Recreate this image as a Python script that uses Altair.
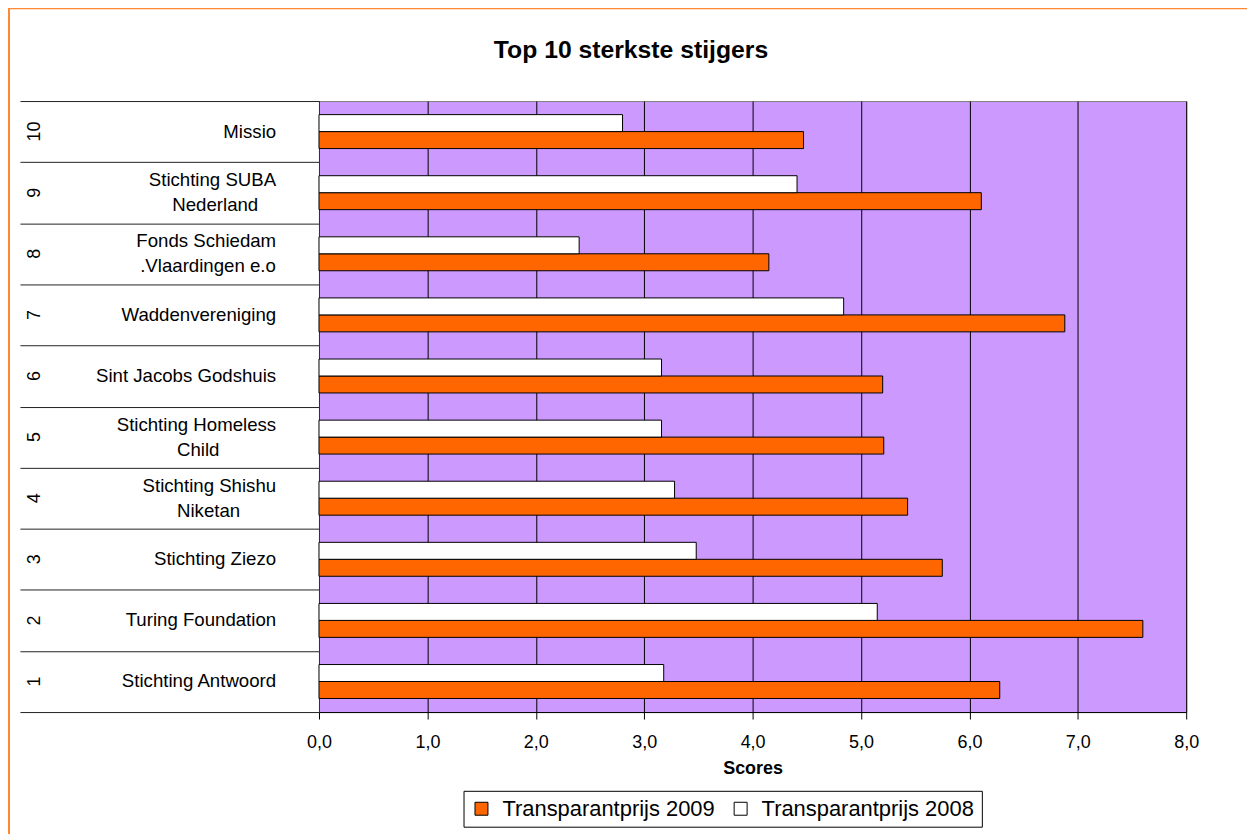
import altair as alt
import pandas as pd

# ---- data ----
ranks = [1, 2, 3, 4, 5, 6, 7, 8, 9, 10]
names = [
    "Stichting Antwoord",
    "Turing Foundation",
    "Stichting Ziezo",
    "Stichting Shishu\nNiketan",
    "Stichting Homeless\nChild",
    "Sint Jacobs Godshuis",
    "Waddenvereniging",
    "Fonds Schiedam\n.Vlaardingen e.o",
    "Stichting SUBA\nNederland",
    "Missio",
]
scores_2009 = [6.28, 7.60, 5.75, 5.43, 5.21, 5.20, 6.88, 4.15, 6.11, 4.47]
scores_2008 = [3.18, 5.15, 3.48, 3.28, 3.16, 3.16, 4.84, 2.40, 4.41, 2.80]
series = ["Transparantprijs 2009", "Transparantprijs 2008"]
series_colors = ["#FF6600", "#FFFFFF"]
x_ticks = [0, 1, 2, 3, 4, 5, 6, 7, 8]
chart_title = "Top 10 sterkste stijgers"

rows = []
for r, n, a, b in zip(ranks, names, scores_2009, scores_2008):
    rows.append({"rank": r, "name": n, "series": series[0], "value": a})
    rows.append({"rank": r, "name": n, "series": series[1], "value": b})
df = pd.DataFrame(rows)
df_names = pd.DataFrame({"rank": [str(r) for r in ranks], "name": names})

order_top_down = list(reversed(names))
FONT = "Liberation Sans"
NAME_SIZE = 18.7

# rough text width (in em) so the two lines of a label are centred on each other
NARROW = "regexp('[iljtfr. ]', 'g')"
def est(s):
    return (f"(0.556 * length(replace({s}, {NARROW}, '')) + "
            f"0.27 * (length({s}) - length(replace({s}, {NARROW}, ''))))")

y_axis = alt.Axis(
    title=None,
    tickBand="extent",
    tickSize=300,
    tickColor="#222222",
    tickWidth=1,
    domainColor="#333333",
    labels=False,
)

y_scale = alt.Scale(paddingInner=0, paddingOuter=0)

def y_name():
    return alt.Y("name:N", sort=order_top_down, axis=y_axis, scale=y_scale)

bars = (
    alt.Chart(df)
    .mark_bar(stroke="#000000", strokeWidth=1)
    .encode(
        x=alt.X(
            "value:Q",
            scale=alt.Scale(domain=[0, 8], nice=False),
            axis=alt.Axis(
                values=x_ticks,
                title="Scores",
                titleFont=FONT,
                titleFontSize=18,
                titleFontWeight="bold",
                titleColor="#000000",
                titleBaseline="alphabetic",
                titleY=62,
                labelExpr="replace(format(datum.value, '.1f'), '.', ',')",
                labelFont=FONT,
                labelFontSize=18,
                labelColor="#000000",
                labelBaseline="alphabetic",
                labelPadding=29,
                labelFlush=False,
                tickSize=7,
                tickColor="#000000",
                domainColor="#000000",
                grid=True,
                gridColor="#000000",
                gridWidth=1,
            ),
        ),
        y=y_name(),
        yOffset=alt.YOffset(
            "series:N",
            sort=[series[1], series[0]],
            scale=alt.Scale(paddingInner=0, paddingOuter=0.8),
        ),
        color=alt.Color(
            "series:N",
            scale=alt.Scale(domain=series, range=series_colors),
            legend=alt.Legend(
                title=None,
                orient="none",
                legendX=145,
                legendY=692,
                direction="horizontal",
                symbolType="square",
                symbolSize=169,
                symbolStrokeColor="#000000",
                symbolStrokeWidth=1,
                labelFont=FONT,
                labelFontSize=22,
                labelColor="#000000",
                labelLimit=400,
                labelOffset=10,
                columnPadding=14,
                padding=7,
                strokeColor="#000000",
                fillColor="#FFFFFF",
            ),
        ),
    )
)

rank_text = (
    alt.Chart(df_names)
    .mark_text(angle=270, fontSize=18, font=FONT, color="#000000", align="center", baseline="middle")
    .encode(y=y_name(), x=alt.value(-285), text="rank:N")
)

single_names = (
    alt.Chart(df_names)
    .transform_filter("indexof(datum.name, '\\n') < 0")
    .mark_text(fontSize=NAME_SIZE, font=FONT, color="#000000", align="right", baseline="middle")
    .encode(y=y_name(), x=alt.value(-43), text="name:N")
)

multi_base = (
    alt.Chart(df_names)
    .transform_filter("indexof(datum.name, '\\n') >= 0")
    .transform_calculate(
        l0="split(datum.name, '\\n')[0]",
        l1="split(datum.name, '\\n')[1]",
    )
    .transform_calculate(w0=est("datum.l0"), w1=est("datum.l1"))
    .transform_calculate(wm="max(datum.w0, datum.w1)")
)

line0 = multi_base.mark_text(
    fontSize=NAME_SIZE, font=FONT, color="#000000", align="right", baseline="middle",
    dy=-12.5, dx={"expr": f"-(datum.wm - datum.w0) / 2 * {NAME_SIZE}"},
).encode(y=y_name(), x=alt.value(-43), text="l0:N")

line1 = multi_base.mark_text(
    fontSize=NAME_SIZE, font=FONT, color="#000000", align="right", baseline="middle",
    dy=12.5, dx={"expr": f"-(datum.wm - datum.w1) / 2 * {NAME_SIZE}"},
).encode(y=y_name(), x=alt.value(-43), text="l1:N")

title_text = (
    alt.Chart(pd.DataFrame({"t": [chart_title]}))
    .mark_text(fontSize=24.8, font=FONT, fontWeight="bold", color="#000000", align="center", baseline="alphabetic")
    .encode(x=alt.value(313), y=alt.value(-43), text="t:N")
)

frame = (
    alt.Chart(pd.DataFrame({"k": [0]}))
    .mark_rect(fill="transparent", stroke="#FF8833", strokeWidth=2)
    .encode(
        x=alt.value(-311),
        x2=alt.value(1000),
        y=alt.value(-93),
        y2=alt.value(900),
    )
)

chart = (
    alt.layer(bars, rank_text, single_names, line0, line1, title_text, frame)
    .properties(
        width=870,
        height=613,
        autosize=alt.AutoSizeParams(type="none"),
        padding={"left": 312, "top": 92, "right": 61, "bottom": 121},
    )
    .configure_view(fill="#CC99FF", stroke="#808080", strokeWidth=1)
)

chart.save("out.html", embed_options={"renderer": "svg", "actions": False})
